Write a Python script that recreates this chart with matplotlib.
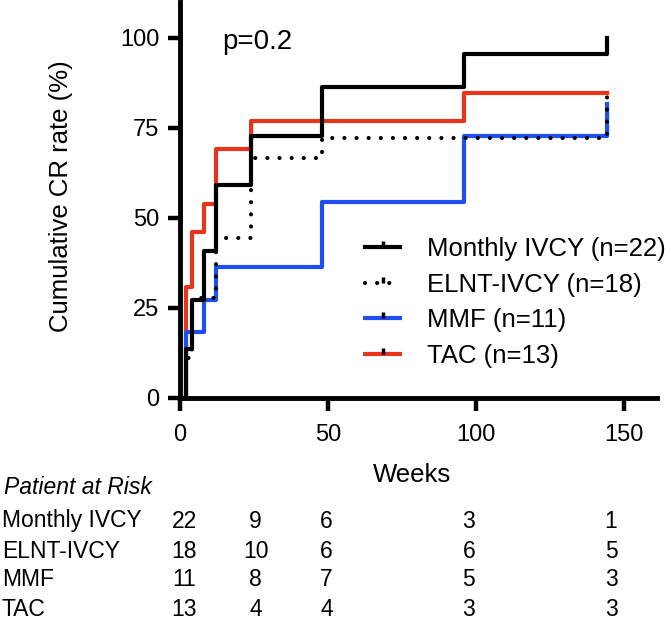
import matplotlib
matplotlib.use('Agg')
import matplotlib.pyplot as plt
from matplotlib.lines import Line2D
from matplotlib.transforms import blended_transform_factory

plt.rcParams['font.family'] = ['Liberation Sans', 'DejaVu Sans']

# Cumulative CR curves (weeks, %)
weeks_mivcy = [0, 2, 4, 8, 12, 24, 48, 96, 144]
cr_mivcy = [0, 13.6, 27.3, 40.9, 59.1, 72.7, 86.4, 95.5, 100]

weeks_elnt = [0, 2, 4, 12, 24, 48, 144]
cr_elnt = [0, 11.1, 27.8, 44.4, 66.7, 72.2, 86.1]

weeks_mmf = [0, 2, 8, 12, 48, 96, 144]
cr_mmf = [0, 18.2, 27.3, 36.4, 54.5, 72.7, 81.8]

weeks_tac = [0, 2, 4, 8, 12, 24, 96, 144]
cr_tac = [0, 30.8, 46.2, 53.8, 69.2, 76.9, 84.6, 84.6]

# Patients at risk table
risk_weeks = [0, 24, 48, 96, 144]
risk_groups = ['Monthly IVCY', 'ELNT-IVCY', 'MMF', 'TAC']
risk_mivcy = [22, 9, 6, 3, 1]
risk_elnt = [18, 10, 6, 6, 5]
risk_mmf = [11, 8, 7, 5, 3]
risk_tac = [13, 4, 4, 3, 3]

legend_labels = ['Monthly IVCY (n=22)', 'ELNT-IVCY (n=18)', 'MMF (n=11)', 'TAC (n=13)']

RED = '#E8341C'
BLUE = '#1E4FF5'
dots = (0, (0.01, 2.9))

fig = plt.figure(figsize=(6.71, 6.21), dpi=100)
ax = fig.add_axes([180 / 671, 1 - 398 / 621, 477 / 671, 396 / 621])

# draw order: red under black, dotted on top
ax.step(weeks_tac, cr_tac, where='post', color=RED, lw=3, zorder=2)
ax.step(weeks_mmf, cr_mmf, where='post', color=BLUE, lw=3, zorder=3)
ax.step(weeks_mivcy, cr_mivcy, where='post', color='black', lw=3, zorder=4)
ax.step(weeks_elnt, cr_elnt, where='post', color='black', lw=3,
        linestyle=dots, dash_capstyle='round', zorder=5)

ax.set_xlim(0, 161)
ax.set_ylim(0, 110)
ax.set_xticks([0, 50, 100, 150])
ax.set_yticks([0, 25, 50, 75, 100])

for side in ['top', 'right']:
    ax.spines[side].set_visible(False)
for side in ['left', 'bottom']:
    ax.spines[side].set_linewidth(3.5)
ax.tick_params(axis='both', width=3.2, length=9, labelsize=17, direction='out')
ax.tick_params(axis='y', pad=6)
ax.tick_params(axis='x', pad=10)

ax.set_ylabel('Cumulative CR rate (%)', fontsize=18.5)
ax.yaxis.set_label_coords(-0.224, 0.51)
ax.set_xlabel('Weeks', fontsize=18.5, va='top')
ax.xaxis.set_label_coords(0.486, -0.165)

ax.text(0.088, 0.899, 'p=0.2', transform=ax.transAxes, fontsize=20,
        ha='left', va='center')

# legend with small censor tick on each handle
tick = [(0, 0), (0, 1)]
handles = [
    Line2D([], [], color='black', lw=3, marker=tick, ms=8, mew=2.5, mec='black'),
    Line2D([], [], color='black', lw=3, linestyle=dots, dash_capstyle='round',
           marker=tick, ms=8, mew=2.5, mec='black'),
    Line2D([], [], color=BLUE, lw=3, marker=tick, ms=8, mew=2.5, mec='black'),
    Line2D([], [], color=RED, lw=3, marker=tick, ms=8, mew=2.5, mec='black'),
]
ax.legend(handles, legend_labels, loc='upper left', bbox_to_anchor=(0.388, 0.406),
          frameon=False, fontsize=18.5, borderaxespad=0, borderpad=0,
          handlelength=1.37, handletextpad=1.05, labelspacing=0.45, numpoints=1)

# patients at risk table below the axis
trans = blended_transform_factory(ax.transData, fig.transFigure)
fig.text(4 / 671, 1 - 487 / 621, 'Patient at Risk', fontsize=16.5,
         style='italic', ha='left', va='center')
row_y = [521, 551, 580, 609]
risk_rows = [risk_mivcy, risk_elnt, risk_mmf, risk_tac]
for name, counts, py in zip(risk_groups, risk_rows, row_y):
    fy = 1 - py / 621
    fig.text(2 / 671, fy, name, fontsize=16.5, ha='left', va='center')
    for w, c in zip(risk_weeks, counts):
        ax.text(w + 1.5, fy, str(c), transform=trans, fontsize=16.5,
                ha='center', va='center', clip_on=False)

plt.savefig('out.png', dpi=100)
